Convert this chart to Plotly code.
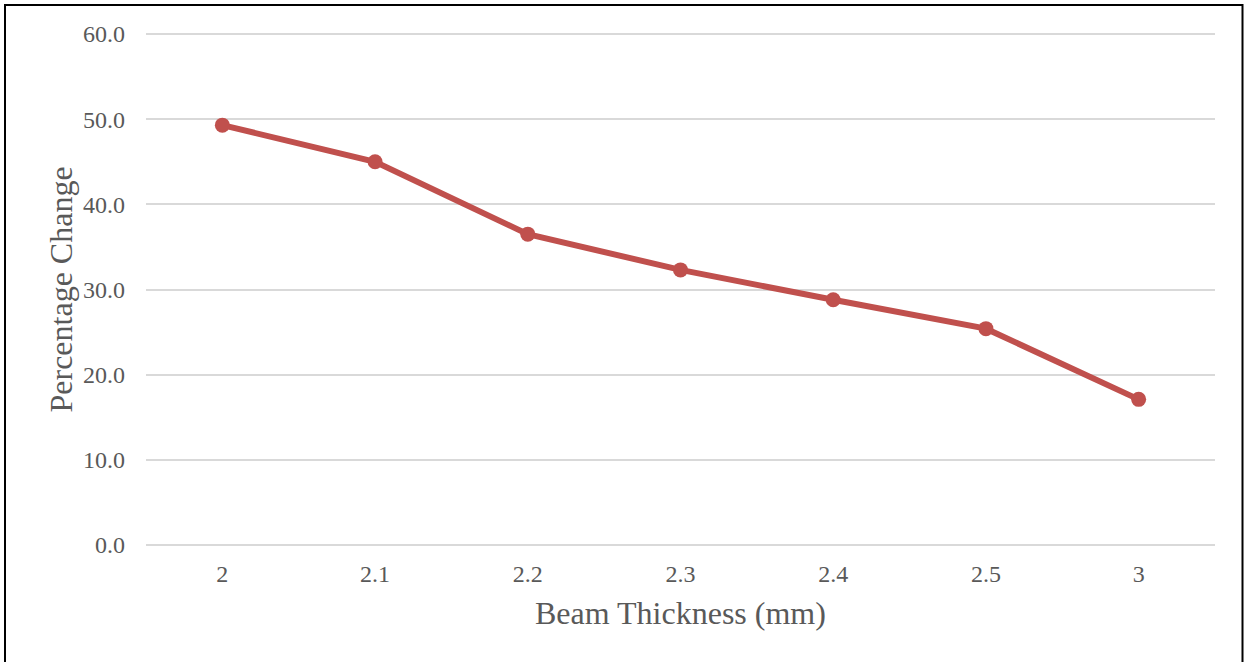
import plotly.graph_objects as go

# Beam thickness categories and the measured percentage change
thickness = ["2", "2.1", "2.2", "2.3", "2.4", "2.5", "3"]
pct_change = [49.3, 45.0, 36.5, 32.3, 28.8, 25.4, 17.1]

y_ticks = [0, 10, 20, 30, 40, 50, 60]
y_tick_text = [f"{v:.1f}" for v in y_ticks]

W, H = 1244, 662
L, R, T, B = 146, 29, 33, 116
plot_w = W - L - R
plot_h = H - T - B

font_family = "Liberation Serif, Times New Roman, serif"
text_color = "#595959"
line_color = "#C0504D"

fig = go.Figure()
fig.add_trace(go.Scatter(
    x=thickness,
    y=pct_change,
    mode="lines+markers",
    line=dict(color=line_color, width=6),
    marker=dict(color=line_color, size=15),
    showlegend=False,
))


def px_x(px):
    return (px - L) / plot_w


def px_y(py):
    return (H - B - py) / plot_h


fig.update_layout(
    width=W,
    height=H,
    margin=dict(l=L, r=R, t=T, b=B),
    paper_bgcolor="white",
    plot_bgcolor="white",
    font=dict(family=font_family, color=text_color, size=24),
    xaxis=dict(
        type="category",
        range=[-0.5, len(thickness) - 0.5],
        showgrid=False,
        zeroline=False,
        showline=False,
        ticks="",
        ticklabelstandoff=11,
        tickfont=dict(size=24, color=text_color),
    ),
    yaxis=dict(
        # a little slack so the 0 and 60 grid lines are kept
        range=[-0.12, 60.12],
        tickvals=y_ticks,
        ticktext=y_tick_text,
        showgrid=True,
        gridcolor="#D9D9D9",
        gridwidth=1.5,
        zeroline=False,
        showline=False,
        ticks="",
        ticklabelstandoff=20,
        tickfont=dict(size=24, color=text_color),
    ),
    annotations=[
        dict(
            text="Beam Thickness (mm)",
            xref="paper", yref="paper",
            x=0.5, y=px_y(613),
            xanchor="center", yanchor="middle",
            showarrow=False,
            font=dict(size=32, color=text_color, family=font_family),
        ),
        dict(
            text="Percentage Change",
            xref="paper", yref="paper",
            x=px_x(60), y=0.5,
            xanchor="center", yanchor="middle",
            textangle=-90,
            showarrow=False,
            font=dict(size=32, color=text_color, family=font_family),
        ),
    ],
    shapes=[
        dict(
            type="rect",
            xref="paper", yref="paper",
            x0=px_x(5), x1=px_x(1242.5),
            y0=px_y(700), y1=px_y(5),
            line=dict(color="black", width=2),
            fillcolor="rgba(0,0,0,0)",
            layer="below",
        )
    ],
)

fig.write_html("out.html")
